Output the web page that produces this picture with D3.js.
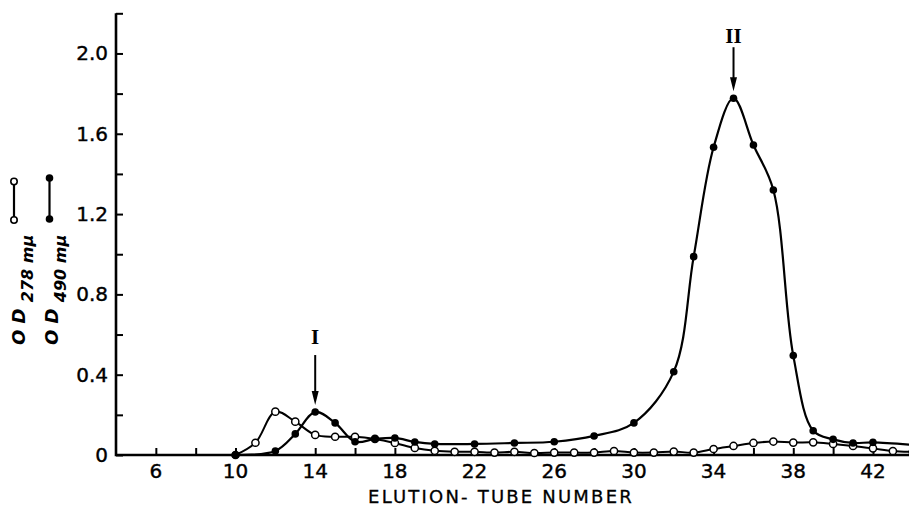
<!DOCTYPE html>
<html>
<head>
<meta charset="utf-8">
<script src="https://cdn.jsdelivr.net/npm/d3@7"></script>
<style>
  body { margin: 0; background: #fff; }
  svg { display: block; }
  text { fill: #000; }
</style>
</head>
<body>
<div id="chart"></div>
<script>
// Tube numbers and optical densities
var tubes490 = [10, 12, 13, 14, 15, 16, 17, 18, 19, 20, 22, 24, 26, 28, 30, 32, 33, 34, 35, 36, 37, 38, 39, 40, 41, 42, 44];
var od490    = [0, 0.02, 0.105, 0.214, 0.16, 0.066, 0.08, 0.085, 0.065, 0.055, 0.055, 0.06, 0.066, 0.095, 0.16, 0.415, 0.988, 1.533, 1.777, 1.544, 1.32, 0.495, 0.121, 0.078, 0.06, 0.063, 0.05];

var tubes278 = [10, 11, 12, 13, 14, 15, 16, 17, 18, 19, 20, 21, 22, 23, 24, 25, 26, 27, 28, 29, 30, 31, 32, 33, 34, 35, 36, 37, 38, 39, 40, 41, 42, 43, 44];
var od278    = [0, 0.061, 0.216, 0.166, 0.1, 0.091, 0.091, 0.08, 0.06, 0.035, 0.021, 0.016, 0.016, 0.012, 0.016, 0.01, 0.012, 0.012, 0.012, 0.02, 0.012, 0.012, 0.017, 0.012, 0.03, 0.045, 0.06, 0.067, 0.062, 0.063, 0.055, 0.045, 0.033, 0.02, 0.015];

var xTickValues = [6, 10, 14, 18, 22, 26, 30, 34, 38, 42];
var yTickValues = [0, 0.4, 0.8, 1.2, 1.6, 2.0];

var width = 909, height = 506;

var x = d3.scaleLinear().domain([4, 44]).range([116, 912.8]);
var y = d3.scaleLinear().domain([0, 2.2]).range([455, 13.3]);

var svg = d3.select("#chart").append("svg")
    .attr("width", width)
    .attr("height", height);

svg.append("clipPath").attr("id", "plotClip")
  .append("rect").attr("x", 0).attr("y", 0).attr("width", 909).attr("height", 506);

var font = "'DejaVu Sans', sans-serif";

// axes: y axis with inward ticks every 0.2, x axis with upward ticks every 2
var yAxis = d3.axisRight(y)
    .tickValues(d3.range(0, 2.21, 0.2))
    .tickSize(7)
    .tickFormat("");
var yg = svg.append("g").attr("transform", "translate(" + x(4) + ",0)").call(yAxis);
yg.select(".domain").remove();
yg.selectAll(".tick line").attr("stroke", "#000").attr("stroke-width", 2);

var xAxis = d3.axisTop(x)
    .tickValues(d3.range(6, 43, 2))
    .tickSize(7)
    .tickFormat("");
var xg = svg.append("g").attr("transform", "translate(0," + y(0) + ")").call(xAxis);
xg.select(".domain").remove();
xg.selectAll(".tick line").attr("stroke", "#000").attr("stroke-width", 2);

// axis lines
svg.append("path")
    .attr("d", "M" + x(4) + "," + y(2.2) + "V" + y(0) + "H909")
    .attr("fill", "none")
    .attr("stroke", "#000")
    .attr("stroke-width", 2.6);

// tick labels
svg.selectAll(".xlab").data(xTickValues).enter().append("text")
    .attr("x", function(d) { return x(d); })
    .attr("y", 478)
    .attr("text-anchor", "middle")
    .style("font-family", font)
    .style("font-size", "20px")
    .style("stroke", "#000").style("stroke-width", 0.4)
    .text(function(d) { return d; });

svg.selectAll(".ylab").data(yTickValues).enter().append("text")
    .attr("x", 108)
    .attr("y", function(d) { return y(d) + 7; })
    .attr("text-anchor", "end")
    .style("font-family", font)
    .style("font-size", "20px")
    .style("stroke", "#000").style("stroke-width", 0.4)
    .text(function(d) { return d === 0 ? "0" : d.toFixed(1); });

svg.append("text")
    .attr("x", 501)
    .attr("y", 503)
    .attr("text-anchor", "middle")
    .style("font-family", font)
    .style("font-size", "18px")
    .style("letter-spacing", "2.2px")
    .style("stroke", "#000").style("stroke-width", 0.3)
    .text("ELUTION- TUBE NUMBER");

// curves
var line = d3.line()
    .x(function(d) { return x(d.t); })
    .y(function(d) { return y(d.v); })
    .curve(d3.curveCatmullRom.alpha(0.5));

var d490 = tubes490.map(function(t, i) { return { t: t, v: od490[i] }; });
var d278 = tubes278.map(function(t, i) { return { t: t, v: od278[i] }; });

var plot = svg.append("g").attr("clip-path", "url(#plotClip)");

plot.append("path").datum(d278)
    .attr("d", line).attr("fill", "none").attr("stroke", "#000").attr("stroke-width", 2);
plot.append("path").datum(d490)
    .attr("d", line).attr("fill", "none").attr("stroke", "#000").attr("stroke-width", 2.2);

plot.selectAll(".open").data(d278).enter().append("circle")
    .attr("cx", function(d) { return x(d.t); })
    .attr("cy", function(d) { return y(d.v); })
    .attr("r", 3.6)
    .attr("fill", "#fff")
    .attr("stroke", "#000")
    .attr("stroke-width", 1.5);

plot.selectAll(".filled").data(d490).enter().append("circle")
    .attr("cx", function(d) { return x(d.t); })
    .attr("cy", function(d) { return y(d.v); })
    .attr("r", 3.8)
    .attr("fill", "#000");

// peak markers
var peaks = [{ label: "I", t: 14, v: 0.214, top: 328, len: 50 }, { label: "II", t: 35, v: 1.777, top: 27, len: 44 }];
peaks.forEach(function(p) {
    var px = x(p.t), tip = y(p.v) - 7;
    svg.append("text")
        .attr("x", px).attr("y", p.top + 16)
        .attr("text-anchor", "middle")
        .style("font-family", "'Liberation Serif', serif")
        .style("font-weight", "bold")
        .style("font-size", "21px")
        .text(p.label);
    svg.append("line")
        .attr("x1", px).attr("x2", px)
        .attr("y1", tip - p.len).attr("y2", tip - 6)
        .attr("stroke", "#000").attr("stroke-width", 2);
    svg.append("path")
        .attr("d", "M" + (px - 3.5) + "," + (tip - 14) + "L" + (px + 3.5) + "," + (tip - 14) + "L" + px + "," + tip + "Z")
        .attr("fill", "#000");
});

// legend on the left: symbol plus rotated label
var legend = [
    { cx: 14, top: 181.5, bottom: 220, open: true, sub: "278 mμ", base: 25 },
    { cx: 49.5, top: 178, bottom: 219, open: false, sub: "490 mμ", base: 58 }
];
legend.forEach(function(l) {
    svg.append("line")
        .attr("x1", l.cx).attr("x2", l.cx).attr("y1", l.top).attr("y2", l.bottom)
        .attr("stroke", "#000").attr("stroke-width", 2.2);
    [l.top, l.bottom].forEach(function(cy) {
        svg.append("circle").attr("cx", l.cx).attr("cy", cy)
            .attr("r", l.open ? 3.2 : 3.8)
            .attr("fill", l.open ? "#fff" : "#000")
            .attr("stroke", "#000").attr("stroke-width", l.open ? 1.6 : 0);
    });
    var t = svg.append("text")
        .attr("transform", "translate(" + l.base + ",345) rotate(-90)")
        .style("font-family", font)
        .style("font-style", "italic")
        .style("font-weight", "bold")
        .style("font-size", "18px");
    t.append("tspan").text("O D ");
    t.append("tspan").attr("dy", 8).style("font-size", "16px").text(l.sub);
});
</script>
</body>
</html>
